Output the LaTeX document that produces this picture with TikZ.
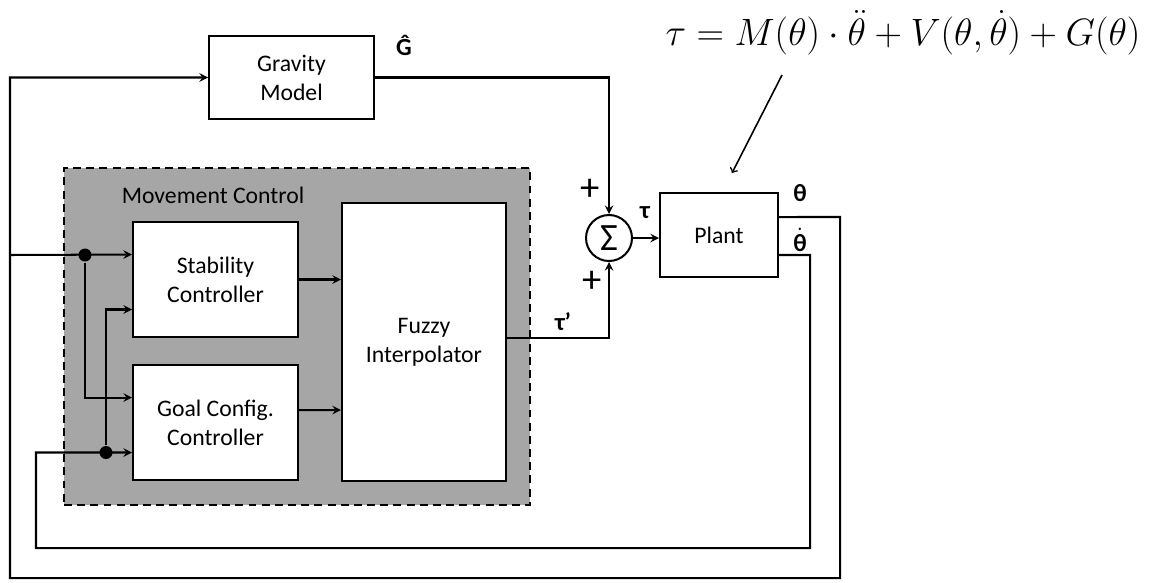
\RequirePackage{fix-cm}
\documentclass[tikz,border=0pt]{standalone}
\usepackage[no-math]{fontspec}
\setmainfont{Carlito}
\usepackage{amsmath}
\usetikzlibrary{arrows, positioning}

\begin{document}
\begin{tikzpicture}[x=0.02cm, y=-0.02cm, line width=1.15pt,
        block/.style={draw, fill=white, rectangle, minimum width=3.3cm, minimum height=2.3cm, align=center, font=\fontsize{13.5}{16.5}\selectfont},
        group/.style={draw, dashed, dash pattern=on 4.5pt off 3pt, fill=black!35, minimum width=9.32cm, minimum height=6.74cm},
        sumnode/.style={draw, fill=white, circle, minimum size=0.92cm, inner sep=0pt, font=\fontsize{22}{22}\selectfont},
        junction/.style={circle, fill=black, inner sep=0pt, minimum size=0.26cm},
        sig/.style={font=\fontsize{14}{16}\selectfont\bfseries, inner sep=1pt},
        sign/.style={font=\fontsize{22}{24}\selectfont, inner sep=0pt},
        arrow/.style={->,>=stealth}
    ]
        \useasboundingbox (0,0) rectangle (1158,582);
        \node (mc) [group] at (297,336.5) {};
        \node (mclabel) [font=\fontsize{13.5}{16.5}\selectfont] at (213,195) {Movement Control};
        \node (grav) [block, minimum height=1.66cm] at (291.5,77.5) {Gravity\\Model};
        \node (stab) [block] at (215.5,279.5) {Stability\\Controller};
        \node (goal) [block] at (215.5,422.5) {Goal Config.\\Controller};
        \node (fuzzy) [block, minimum width=3.28cm, minimum height=5.56cm] at (424,342) {Fuzzy\\Interpolator};
        \node (sum) [sumnode] at (609,238) {Σ};
        \node (plant) [block, minimum width=2.36cm, minimum height=1.68cm] at (719,235) {Plant};
        \node (eq) at (903,33) {\fontsize{21.7}{26}\selectfont$\tau = M(\theta)\cdot\ddot{\theta} + V(\theta,\dot{\theta}) + G(\theta)$};
        \node (ghat) [sig] at (404,45) {Ĝ};
        \node (tau) [sig] at (645,213) {τ};
        \node (taup) [sig] at (563,322) {τ’};
        \node (th) [sig] at (800,193) {θ};
        \node (thd) [sig] at (800,240) {$\dot{\textbf{θ}}$};
        \node (plus1) [sign] at (590,190) {+};
        \node (plus2) [sign] at (592,282) {+};
        \node (j1) [junction] at (85,255) {};
        \node (j2) [junction] at (106,452.5) {};
        \coordinate (eqtail) at (782,75);
        \coordinate (eqhead) at (732,173);
        \draw [arrow] (grav.east) -| (sum.north);
        \draw [arrow] ([yshift=0.08cm]fuzzy.east) -| (sum.south);
        \draw [arrow] (sum) -- (plant.west |- sum);
        \draw [arrow] (stab.east) -- (fuzzy.west |- stab.east);
        \draw [arrow] ([yshift=0.25cm]goal.east) -- (fuzzy.west |- 0,410);
        \draw [arrow] ([yshift=0.36cm]plant.east) -- (840,217) -- (840,578) -- (10,578) |- (grav.west);
        \draw [arrow] (10,255) -- ([yshift=0.5cm]stab.west);
        \draw [arrow] (j1) |- ([yshift=0.5cm]goal.west);
        \draw [arrow] ([yshift=-0.4cm]plant.east) -- (810,255) -- (810,548) -- (36,548) |- ([yshift=-0.6cm]goal.west);
        \draw [arrow] (j2) |- ([yshift=-0.6cm]stab.west);
        \draw [->, line width=0.9pt] (eqtail) -- (eqhead);
    \end{tikzpicture}
\end{document}
